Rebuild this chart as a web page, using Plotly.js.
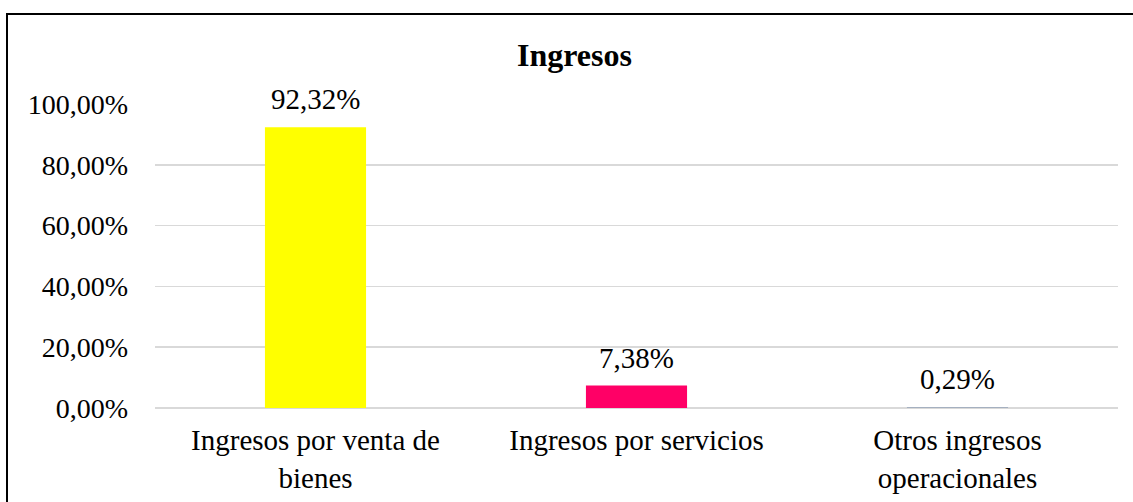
<!DOCTYPE html>
<html>
<head>
<meta charset="utf-8">
<script src="https://cdn.plot.ly/plotly-3.0.1.min.js"></script>
<style>
html,body{margin:0;padding:0;overflow:hidden;background:#fff;}
#chart{position:absolute;left:0;top:0;width:1133px;height:502px;}
#frame{position:absolute;left:6px;top:13px;width:1140px;height:520px;border:2px solid #000;pointer-events:none;box-sizing:border-box;}
</style>
</head>
<body>
<div id="chart"></div>
<div id="frame"></div>
<script>
const categories = ["Ingresos por venta de<br>bienes", "Ingresos por servicios", "Otros ingresos<br>operacionales"];
const values = [92.32, 7.38, 0.29];
const valueLabels = ["92,32%", "7,38%", "0,29%"];
const barColors = ["#FFFF00", "#FF0066", "#A5B0C0"];
const tickVals = [0, 20, 40, 60, 80, 100];
const tickText = ["0,00%", "20,00%", "40,00%", "60,00%", "80,00%", "100,00%"];

const font = "Liberation Serif";

const trace = {
  type: "bar",
  x: categories,
  y: values,
  marker: {color: barColors},
  hoverinfo: "none"
};

const annotations = categories.map((c, i) => ({
  x: c, y: values[i], xref: "x", yref: "y",
  text: valueLabels[i], showarrow: false,
  yanchor: "bottom", yshift: 10,
  font: {family: font, size: 29, color: "#000"}
}));

const layout = {
  width: 1133, height: 502,
  margin: {l: 155, r: 15, t: 104, b: 94},
  paper_bgcolor: "#fff", plot_bgcolor: "#fff",
  showlegend: false,
  bargap: 0.685,
  title: {text: "<b>Ingresos</b>", x: 0.507, xanchor: "center", y: 0.89, yanchor: "middle",
          font: {family: font, size: 32, color: "#000"}},
  xaxis: {
    tickfont: {family: font, size: 29, color: "#000"},
    showgrid: false, showline: false, ticks: "",
    ticklabelstandoff: 12
  },
  yaxis: {
    range: [0, 100],
    tickvals: tickVals, ticktext: tickText,
    tickfont: {family: font, size: 28, color: "#000"},
    showgrid: true, gridcolor: "#D9D9D9", gridwidth: 1.5,
    zeroline: true, zerolinecolor: "#D9D9D9", zerolinewidth: 1.5,
    showline: false, ticks: "",
    ticklabelstandoff: 26
  },
  annotations: annotations
};

Plotly.newPlot("chart", [trace], layout, {displayModeBar: false, staticPlot: true});
</script>
</body>
</html>
